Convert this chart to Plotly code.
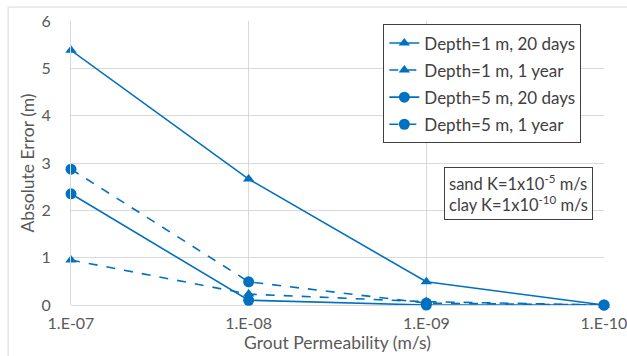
import plotly.graph_objects as go

categories = ["1.E-07", "1.E-08", "1.E-09", "1.E-10"]
d1_20days = [5.38, 2.66, 0.49, 0.0]
d1_1year = [0.95, 0.23, 0.07, 0.0]
d5_20days = [2.35, 0.10, 0.0, 0.0]
d5_1year = [2.87, 0.49, 0.04, 0.0]
names = ["Depth=1 m, 20 days", "Depth=1 m, 1 year", "Depth=5 m, 20 days", "Depth=5 m, 1 year"]

blue = "#0070C0"
font = "Lato, 'Open Sans', sans-serif"
fig = go.Figure()
series = [
    (d1_20days, "solid", "triangle-up", 10),
    (d1_1year, "dash", "triangle-up", 10),
    (d5_20days, "solid", "circle", 11),
    (d5_1year, "dash", "circle", 11),
]
for i, (vals, dash, sym, sz) in enumerate(series):
    fig.add_trace(go.Scatter(
        x=categories, y=vals, name=names[i], mode="lines+markers",
        line=dict(color=blue, width=1.6, dash=dash),
        marker=dict(symbol=sym, size=sz, color=blue),
        cliponaxis=False, legendgroup=f"g{i}",
    ))

fig.update_layout(
    width=627, height=356,
    margin=dict(l=71, r=23, t=21, b=51, autoexpand=False),
    plot_bgcolor="white", paper_bgcolor="white",
    font=dict(family=font, size=16, color="#595959"),
    showlegend=True,
    legend=dict(
        x=0.586, y=0.988, xanchor="left", yanchor="top",
        bgcolor="white", bordercolor="#404040", borderwidth=1,
        font=dict(family=font, size=17, color="#404040"),
        tracegroupgap=2, itemwidth=30,
    ),
    xaxis=dict(
        type="category", range=[0, 3], automargin=False,
        showgrid=True, gridcolor="#d9d9d9", gridwidth=1,
        showline=False, zeroline=False, ticks="",
        ticklabelstandoff=7,
        title=dict(text="Grout Permeability (m/s)", font=dict(family=font, size=17.5, color="#595959"), standoff=2),
        tickfont=dict(family=font, size=16, color="#595959"),
    ),
    yaxis=dict(
        range=[0, 6], dtick=1, automargin=False,
        showgrid=True, gridcolor="#d9d9d9", gridwidth=1,
        zeroline=True, zerolinecolor="#d9d9d9", zerolinewidth=1,
        showline=True, linecolor="#d9d9d9", linewidth=1,
        ticklabelstandoff=16,
        title=dict(text="Absolute Error (m)", font=dict(family=font, size=17.5, color="#595959"), standoff=2),
        tickfont=dict(family=font, size=16, color="#595959"),
    ),
)

fig.add_annotation(
    xref="paper", yref="paper", x=0.979, y=0.485, xanchor="right", yanchor="top",
    text="sand K=1x10<sup>-5</sup> m/s<br>clay K=1x10<sup>-10</sup> m/s",
    showarrow=False, align="left",
    font=dict(family=font, size=16.5, color="#404040"),
    bordercolor="#404040", borderwidth=1, borderpad=4, bgcolor="white",
)

fig.add_shape(type="rect", xref="paper", yref="paper",
              x0=-0.118, x1=1.2, y0=-0.4, y1=1.049,
              line=dict(color="#d9d9d9", width=1), layer="below")

fig.write_html("out.html")
